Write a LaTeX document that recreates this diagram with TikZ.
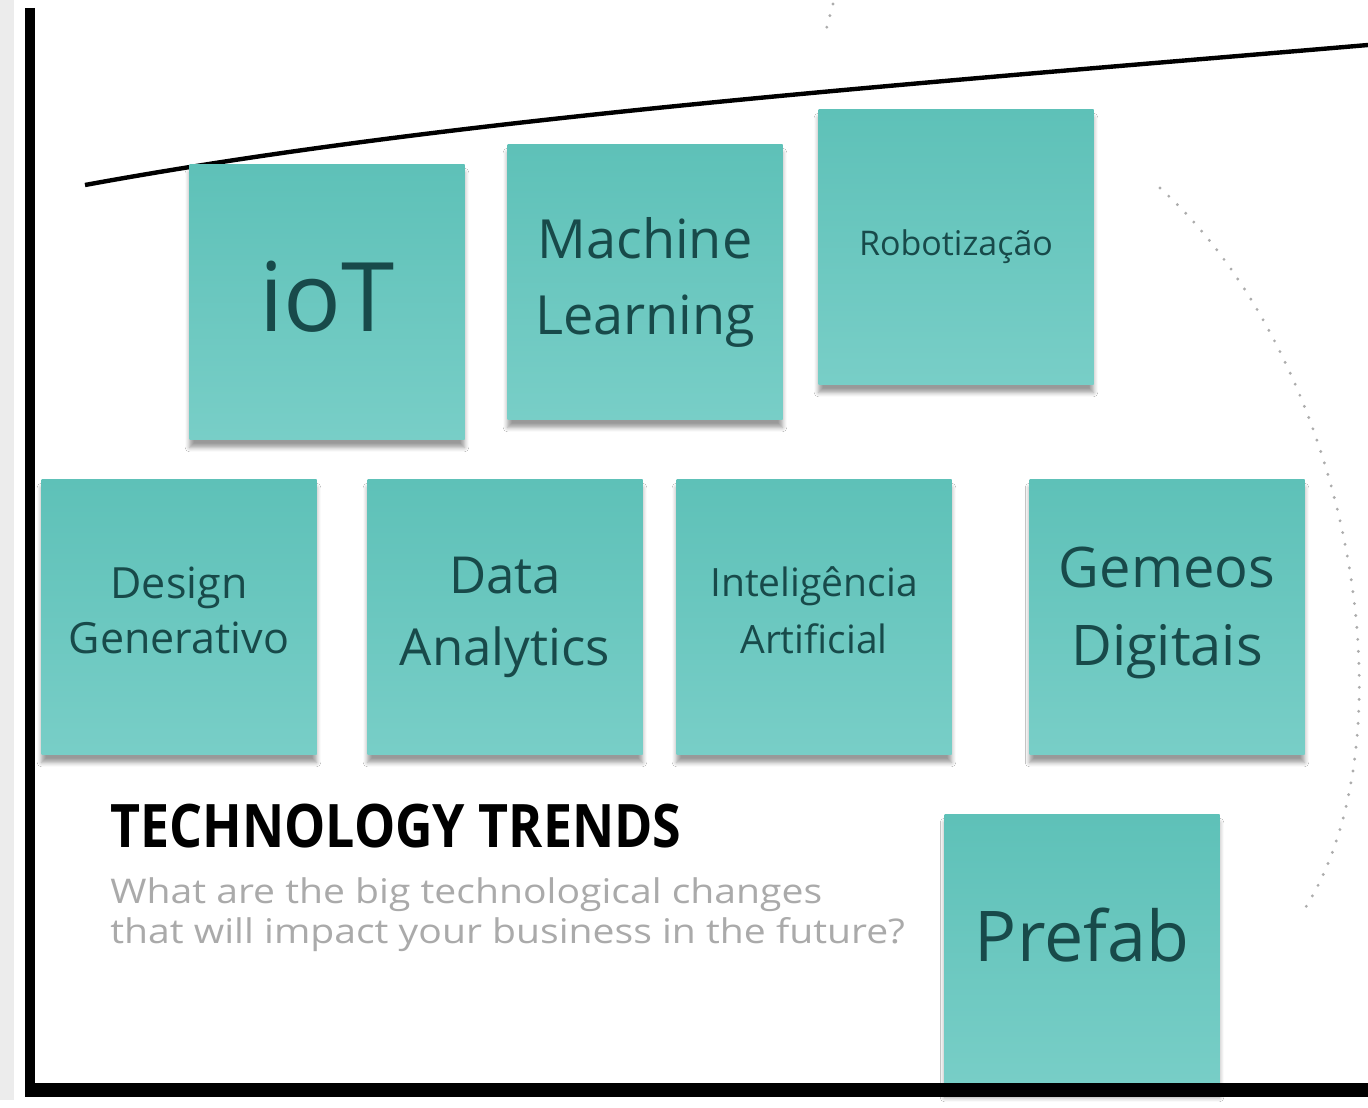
\documentclass[tikz,border=0pt]{standalone}
\usepackage{fontspec}
\setmainfont{Open Sans}
\usetikzlibrary{shadows.blur}
\definecolor{notetop}{RGB}{94,193,184}
\definecolor{notebot}{RGB}{120,206,199}
\definecolor{noteink}{RGB}{24,74,74}
\definecolor{subgray}{RGB}{170,170,170}
\newcommand{\notedrop}[1]{\rule[-#1]{0pt}{#1}}

\begin{document}
\begin{tikzpicture}[x=0.5pt,y=-0.5pt]
          \tikzstyle{note}=[rectangle,inner sep=0pt,minimum width=137.5pt,minimum height=137.5pt,
            top color=notetop,bottom color=notebot,text=noteink,align=center,
            blur shadow={shadow xshift=0pt,shadow yshift=-4pt,shadow opacity=40,shadow blur steps=6}]
          \tikzstyle{frame}=[black,line cap=butt]
          \tikzstyle{dots}=[gray!65,line width=1.6pt,line cap=round,dash pattern=on 0pt off 6pt]

          \useasboundingbox (0,0) rectangle (1368,1107);
          \fill[white] (0,0) rectangle (1368,1107);
          \fill[gray!15] (0,0) rectangle (14,1100);

          \coordinate (arcA) at (1160,188);
          \coordinate (arcB) at (1300,916);
          \coordinate (topA) at (833,4);
          \coordinate (topB) at (825,34);
          \draw[dots] (arcA) .. controls (1350,360) and (1420,740) .. (arcB);
          \draw[dots] (topA) -- (topB);

          \coordinate (hopeA) at (85,185);
          \coordinate (hopeB) at (1368,45);
          \draw[line width=2.2pt] (hopeA) .. controls (450,118) and (900,85) .. (hopeB);

          \node (iot) at (327,302) [note,font=\fontsize{48}{52}\selectfont] {ioT\notedrop{6pt}};
          \node (ml) at (645,282) [note,font=\fontsize{27}{38}\selectfont] {Machine\\Learning};
          \node (robot) at (956,247) [note,font=\fontsize{17}{20}\selectfont] {Robotização};
          \node (design) at (179,617) [note,font=\fontsize{21.5}{27.5}\selectfont] {Design\\Generativo\notedrop{7pt}};
          \node (data) at (505,617) [note,font=\fontsize{25.5}{36}\selectfont] {Data\\Analytics};
          \node (ai) at (814,617) [note,font=\fontsize{19.5}{28.5}\selectfont] {Inteligência\\Artificial\notedrop{7pt}};
          \node (twins) at (1167,617) [note,font=\fontsize{28}{39}\selectfont] {Gemeos\\Digitais\notedrop{11pt}};
          \node (prefab) at (1082,952) [note,font=\fontsize{35}{40}\selectfont] {Prefab\notedrop{17pt}};

          \node (title) at (110,826) [anchor=west,inner sep=0pt]
            {\scalebox{0.865}[1]{\fontsize{30}{34}\selectfont\bfseries TECHNOLOGY TRENDS}};
          \node (subtitle) at (110,915) [anchor=west,inner sep=0pt,text=subgray,align=left]
            {\scalebox{1.15}[1]{\fontsize{17}{20}\selectfont\begin{tabular}{@{}l@{}}What are the big technological changes\\that will impact your business in the future?\end{tabular}}};

          \draw[frame,line width=5pt] (30,8) -- (30,1097);
          \draw[frame,line width=7pt] (25,1090) -- (1368,1090);
        \end{tikzpicture}
\end{document}
